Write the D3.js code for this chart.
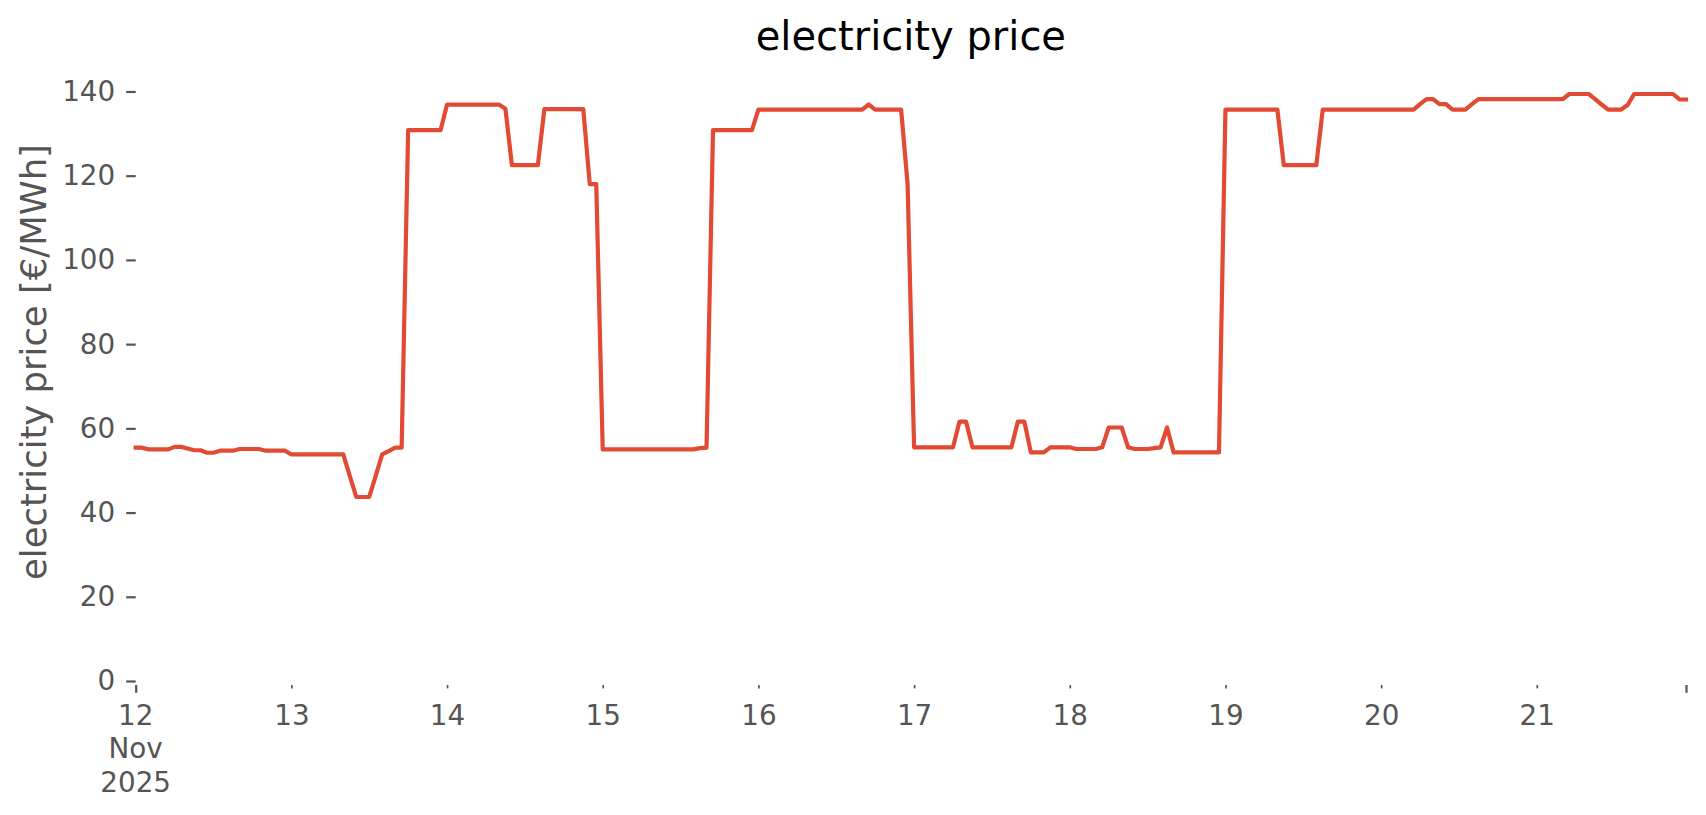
<!DOCTYPE html>
<html><head><meta charset="utf-8">
<script src="https://cdn.jsdelivr.net/npm/d3@7"></script>
<style>
body{margin:0;background:#fff}
text{font-family:"DejaVu Sans",sans-serif}
</style>
</head><body>
<svg id="chart" width="1706" height="815"></svg>
<script>
// hourly prices, 12 Nov 2025 00:00 .. 21 Nov 2025 23:00 (€/MWh)
const startTime = "2025-11-12T00:00:00Z";
const day12 = [55.4,55.4,55.0,55.0,55.0,55.0,55.6,55.6,55.2,54.8,54.8,54.2,54.2,54.7,54.7,54.7,55.1,55.1,55.1,55.1,54.7,54.7,54.7,54.7];
const day13 = [53.8,53.8,53.8,53.8,53.8,53.8,53.8,53.8,53.8,48.7,43.7,43.7,43.7,48.7,53.8,54.6,55.4,55.4,130.8,130.8,130.8,130.8,130.8,130.8];
const day14 = [136.9,136.9,136.9,136.9,136.9,136.9,136.9,136.9,136.9,135.9,122.5,122.5,122.5,122.5,122.5,135.8,135.8,135.8,135.8,135.8,135.8,135.8,118.0,118.0];
const day15 = [55.0,55.0,55.0,55.0,55.0,55.0,55.0,55.0,55.0,55.0,55.0,55.0,55.0,55.0,55.0,55.3,55.4,130.8,130.8,130.8,130.8,130.8,130.8,130.8];
const day16 = [135.7,135.7,135.7,135.7,135.7,135.7,135.7,135.7,135.7,135.7,135.7,135.7,135.7,135.7,135.7,135.7,135.7,136.9,135.7,135.7,135.7,135.7,135.7,118.0];
const day17 = [55.5,55.5,55.5,55.5,55.5,55.5,55.5,61.6,61.6,55.5,55.5,55.5,55.5,55.5,55.5,55.5,61.6,61.6,54.3,54.3,54.3,55.5,55.5,55.5];
const day18 = [55.5,55.1,55.1,55.1,55.1,55.5,60.2,60.2,60.2,55.5,55.1,55.1,55.1,55.3,55.5,60.2,54.3,54.3,54.3,54.3,54.3,54.3,54.3,54.3];
const day19 = [135.7,135.7,135.7,135.7,135.7,135.7,135.7,135.7,135.7,122.5,122.5,122.5,122.5,122.5,122.5,135.7,135.7,135.7,135.7,135.7,135.7,135.7,135.7,135.7];
const day20 = [135.7,135.7,135.7,135.7,135.7,135.7,137.0,138.2,138.2,137.0,137.0,135.7,135.7,135.7,137.0,138.2,138.2,138.2,138.2,138.2,138.2,138.2,138.2,138.2];
const day21 = [138.2,138.2,138.2,138.2,138.2,139.4,139.4,139.4,139.4,138.2,136.9,135.7,135.7,135.7,136.8,139.4,139.4,139.4,139.4,139.4,139.4,139.4,138.1,138.1];

const yTicks = [0,20,40,60,80,100,120,140];
const dayTickDates = ["2025-11-13","2025-11-14","2025-11-15","2025-11-16","2025-11-17","2025-11-18","2025-11-19","2025-11-20","2025-11-21"];
const dayTickLabels = ["13","14","15","16","17","18","19","20","21"];
const firstTickLabel = ["12","Nov","2025"];

const titleText = "electricity price";
const yLabelText = "electricity price [€/MWh]";

(function(){
const prices = [].concat(day12,day13,day14,day15,day16,day17,day18,day19,day20,day21);
const t0 = new Date(startTime);
const data = prices.map((v,i)=>({t:d3.utcHour.offset(t0,i), v}));
const tEnd = data[data.length-1].t;

const svg = d3.select("#chart");
svg.append("rect").attr("width",1706).attr("height",815).attr("fill","#fff");

const pLeft=135.7, pRight=1686, pTop=66, pBottom=685;
const x = d3.scaleUtc().domain([t0,tEnd]).range([pLeft,pRight]);
const y = d3.scaleLinear().domain([-0.95,146.05]).range([pBottom,pTop]);

const tickColor="#555555";

// y axis
const ya = svg.append("g").attr("transform",`translate(${pLeft},0)`)
  .call(d3.axisLeft(y).tickValues(yTicks).tickSize(9.5).tickPadding(11).tickFormat(d3.format("d")));
ya.select(".domain").remove();
ya.selectAll(".tick line").attr("stroke",tickColor).attr("stroke-width",2.2);
ya.selectAll(".tick text").attr("fill",tickColor).style("font-size","27.8px").attr("font-family","DejaVu Sans");

// x axis minor day ticks
const dayDates = dayTickDates.map(d=>new Date(d+"T00:00:00Z"));
const xa = svg.append("g").attr("transform",`translate(0,${pBottom})`)
  .call(d3.axisBottom(x).tickValues(dayDates).tickSize(3.4).tickFormat((d,i)=>dayTickLabels[i]));
xa.select(".domain").remove();
xa.selectAll(".tick line").attr("stroke",tickColor).attr("stroke-width",1.7);
xa.selectAll(".tick text").attr("fill",tickColor).style("font-size","27.8px").attr("font-family","DejaVu Sans")
  .attr("y",40).attr("dy",0);

// major ticks (start and end)
const xb = svg.append("g").attr("transform",`translate(0,${pBottom})`)
  .call(d3.axisBottom(x).tickValues([t0,tEnd]).tickSize(7.8).tickFormat(()=>""));
xb.select(".domain").remove();
xb.selectAll(".tick line").attr("stroke",tickColor).attr("stroke-width",2.2);
xb.selectAll(".tick text").remove();
const firstLbl = svg.append("text").attr("x",x(t0)).attr("y",pBottom+40)
  .attr("text-anchor","middle").attr("fill",tickColor).style("font-size","27.8px");
firstTickLabel.forEach((s,i)=>{
  firstLbl.append("tspan").attr("x",x(t0)).attr("y",pBottom+40+i*33.3).text(s);
});

// line
svg.append("path").datum(data)
  .attr("fill","none").attr("stroke","#E24A33").attr("stroke-width",4.2)
  .attr("stroke-linejoin","round").attr("stroke-linecap","square")
  .attr("d",d3.line().x(d=>x(d.t)).y(d=>y(d.v)));

// title
svg.append("text").attr("x",(pLeft+pRight)/2).attr("y",50).attr("text-anchor","middle")
  .attr("fill","#000").style("font-size","40px").text(titleText);

// y label
svg.append("text").attr("transform",`translate(46,362) rotate(-90)`)
  .attr("text-anchor","middle").attr("fill",tickColor).style("font-size","35.4px").text(yLabelText);
})();
</script>
</body></html>
